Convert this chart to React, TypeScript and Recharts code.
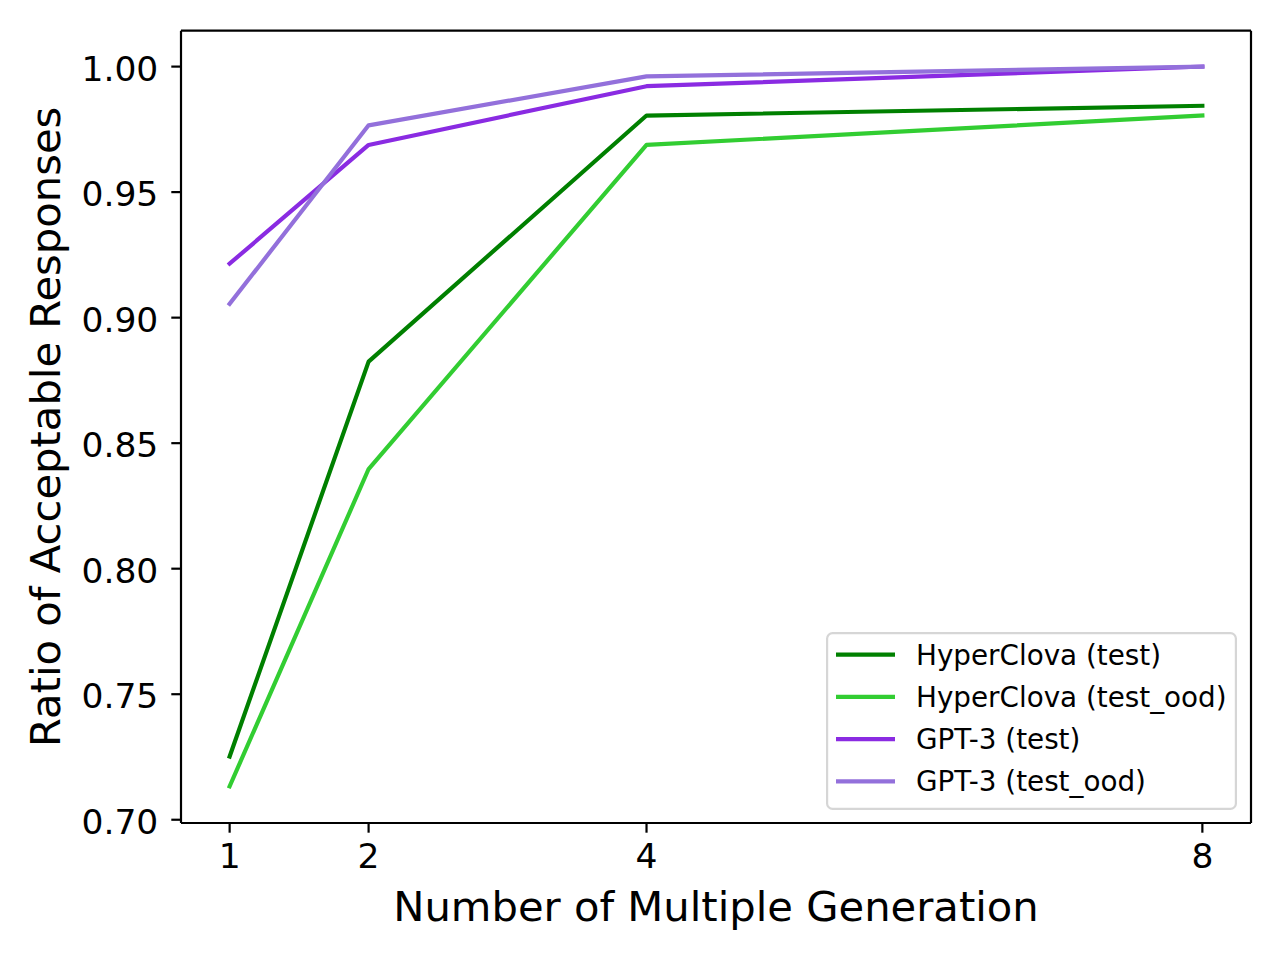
import React from 'react';
import { LineChart, Line, XAxis, YAxis, Legend, Label, ReferenceLine } from 'recharts';

// ---- data ----
const xValues = [1, 2, 4, 8];
const hyperClovaTest = [0.7252, 0.8825, 0.9805, 0.9844];
const hyperClovaTestOod = [0.7133, 0.8397, 0.9688, 0.9805];
const gpt3Test = [0.9215, 0.9688, 0.9922, 1.0];
const gpt3TestOod = [0.9055, 0.9766, 0.9961, 1.0];

const xTicks = [1, 2, 4, 8];
const yTicks = [0.7, 0.75, 0.8, 0.85, 0.9, 0.95, 1.0];

const seriesKeys = ['hcTest', 'hcOod', 'gptTest', 'gptOod'];
const seriesNames = ['HyperClova (test)', 'HyperClova (test_ood)', 'GPT-3 (test)', 'GPT-3 (test_ood)'];
const seriesColors = ['#008000', '#32CD32', '#8A2BE2', '#9370DB'];
const seriesValues = [hyperClovaTest, hyperClovaTestOod, gpt3Test, gpt3TestOod];

const xLabel = 'Number of Multiple Generation';
const yLabel = 'Ratio of Acceptable Responses';

const data = xValues.map((x, i) => {
  const row: Record<string, number> = { x };
  seriesKeys.forEach((k, s) => {
    row[k] = seriesValues[s][i];
  });
  return row;
});

// ---- styles ----
const FONT = '"DejaVu Sans", sans-serif';
const TICK_FS = 34.5;
const LABEL_FS = 41.7;
const LEGEND_FS = 27.8;
const LW = 4.17;
const SPINE = 2.2;
const X_DOMAIN: [number, number] = [0.65, 8.35];
const Y_DOMAIN: [number, number] = [0.6987, 1.0143];

const LegendBox = () => {
  const w = 411;
  const h = 178;
  return (
    <svg width={w} height={h} style={{ display: 'block' }}>
      <rect
        x={1.1}
        y={1.1}
        width={w - 2.2}
        height={h - 2.2}
        rx={5.5}
        ry={5.5}
        fill="#ffffff"
        fillOpacity={0.8}
        stroke="#d6d6d6"
        strokeWidth={SPINE}
      />
      {seriesNames.map((name, i) => {
        const cy = 22.7 + i * 42.2;
        return (
          <g key={name}>
            <line x1={10} x2={69} y1={cy} y2={cy} stroke={seriesColors[i]} strokeWidth={LW} />
            <text x={90} y={cy + 10} fontSize={LEGEND_FS} fontFamily={FONT} fill="#000">
              {name}
            </text>
          </g>
        );
      })}
    </svg>
  );
};

export default function App() {
  return (
    <div style={{ width: 1264, height: 944, fontFamily: FONT, position: 'relative' }}>
      <LineChart
        width={1264}
        height={944}
        data={data}
        margin={{ top: 22.7, right: 21, left: 53, bottom: 49 }}
        style={{ fontFamily: FONT }}
      >
        <XAxis
          dataKey="x"
          type="number"
          domain={X_DOMAIN}
          ticks={xTicks}
          allowDataOverflow
          height={80}
          tickSize={9.7}
          tickMargin={11}
          tick={{ fill: '#000', fontSize: TICK_FS, fontFamily: FONT }}
          tickLine={{ stroke: '#000', strokeWidth: SPINE }}
          axisLine={{ stroke: '#000', strokeWidth: SPINE }}
        >
          <Label
            content={(props: any) => {
              const vb = props.viewBox;
              return (
                <text
                  x={vb.x + vb.width / 2}
                  y={vb.y + 98}
                  textAnchor="middle"
                  fontSize={LABEL_FS}
                  fontFamily={FONT}
                  fill="#000"
                >
                  {xLabel}
                </text>
              );
            }}
          />
        </XAxis>
        <YAxis
          type="number"
          domain={Y_DOMAIN}
          ticks={yTicks}
          allowDataOverflow
          width={120}
          tickSize={9.7}
          tickMargin={13}
          tickFormatter={(v: number) => v.toFixed(2)}
          tick={{ fill: '#000', fontSize: TICK_FS, fontFamily: FONT, dy: 2 }}
          tickLine={{ stroke: '#000', strokeWidth: SPINE }}
          axisLine={{ stroke: '#000', strokeWidth: SPINE }}
        >
          <Label
            content={(props: any) => {
              const vb = props.viewBox;
              const x = vb.x - 1;
              const y = vb.y + vb.height / 2;
              return (
                <text
                  x={x}
                  y={y}
                  transform={`rotate(-90, ${x}, ${y})`}
                  textAnchor="middle"
                  fontSize={LABEL_FS}
                  fontFamily={FONT}
                  fill="#000"
                >
                  {yLabel}
                </text>
              );
            }}
          />
        </YAxis>
        <ReferenceLine y={Y_DOMAIN[1]} stroke="#000" strokeWidth={SPINE} ifOverflow="visible" />
        <ReferenceLine x={X_DOMAIN[1]} stroke="#000" strokeWidth={SPINE} ifOverflow="visible" />
        {seriesKeys.map((k, i) => (
          <Line
            key={k}
            type="linear"
            dataKey={k}
            name={seriesNames[i]}
            stroke={seriesColors[i]}
            strokeWidth={LW}
            strokeLinecap="square"
            strokeLinejoin="round"
            dot={false}
            activeDot={false}
            isAnimationActive={false}
          />
        ))}
        <Legend
          layout="vertical"
          align="center"
          verticalAlign="middle"
          content={() => <LegendBox />}
          wrapperStyle={{
            position: 'absolute',
            left: 818,
            top: 624.3,
            width: 411,
            height: 178,
            margin: 0,
            padding: 0,
            lineHeight: 0,
          }}
        />
      </LineChart>
    </div>
  );
}
